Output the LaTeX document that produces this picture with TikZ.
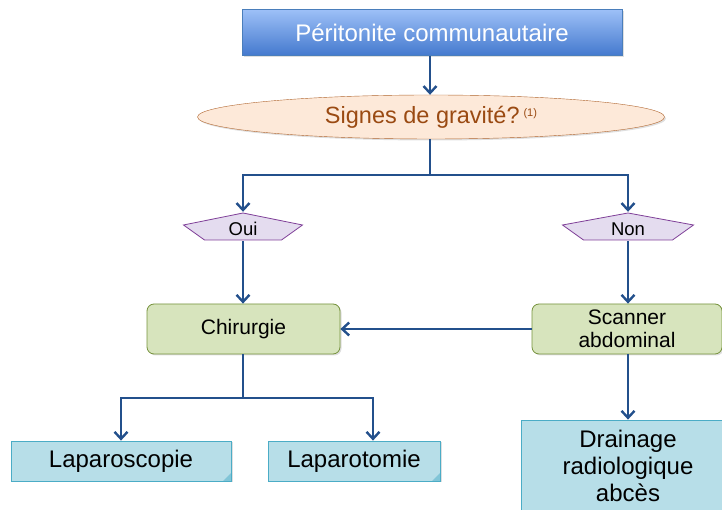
\documentclass[tikz,border=0pt]{standalone}
\usepackage{fontspec}
\setmainfont{Liberation Sans}
\usetikzlibrary{shapes.geometric,arrows.meta,shadows}
\definecolor{arrowblue}{HTML}{23508C}
\definecolor{toptop}{HTML}{9DC0F7}
\definecolor{topbottom}{HTML}{4479CE}
\definecolor{topline}{HTML}{4A7EBB}
\definecolor{ellfill}{HTML}{FDE9D9}
\definecolor{ellline}{HTML}{B0652E}
\definecolor{elltext}{HTML}{9A4A12}
\definecolor{pentafill}{HTML}{E4DCEF}
\definecolor{pentaline}{HTML}{7F3F98}
\definecolor{greenfill}{HTML}{D7E4BD}
\definecolor{greenline}{HTML}{76923C}
\definecolor{bluefill}{HTML}{B7DEE8}
\definecolor{blueline}{HTML}{4BACC6}
\begin{document}
\begin{tikzpicture}[x=1pt, y=1pt,
  arr/.style = {draw=arrowblue, line width=2.8pt, -{Straight Barb[length=7pt, width=13pt, line width=2.4pt]}},
  link/.style = {draw=arrowblue, line width=2.8pt},
  shade/.style = {drop shadow={shadow xshift=1.5pt, shadow yshift=-1.5pt, opacity=0.25}},
  topbox/.style = {rectangle, shade, draw=topline, top color=toptop, bottom color=topbottom, minimum width=380pt, minimum height=46pt, text=white, font=\fontsize{24}{28}\selectfont},
  question/.style = {ellipse, shade, draw=ellline, fill=ellfill, minimum width=467pt, minimum height=44pt, inner sep=0pt, text=elltext, font=\fontsize{23.5}{27}\selectfont},
  pentagon/.style = {rectangle, inner sep=0pt, minimum width=#1, text height=24pt, text depth=5pt, font=\fontsize{18.5}{20}\selectfont,
    path picture={\draw[fill=pentafill, draw=pentaline, line width=0.8pt]
      ([yshift=-1pt]path picture bounding box.north)
      -- ([shift={(1pt,1.5pt)}]path picture bounding box.west)
      -- ([shift={(22pt,1pt)}]path picture bounding box.south west)
      -- ([shift={(-22pt,1pt)}]path picture bounding box.south east)
      -- ([shift={(-1pt,1.5pt)}]path picture bounding box.east) -- cycle;}},
  step box/.style = {rectangle, rounded corners=7pt, shade, draw=greenline, fill=greenfill, line width=0.8pt, minimum width=#1, minimum height=50pt, inner sep=1pt, align=center, font=\fontsize{21}{23}\selectfont},
  result/.style = {rectangle, shade, draw=blueline, fill=bluefill, line width=0.8pt, minimum width=#1, inner sep=1pt, align=center, font=\fontsize{24}{27}\selectfont,
    path picture={\fill[blueline!70] ([xshift=-8pt]path picture bounding box.south east) -- ([yshift=8pt]path picture bounding box.south east) -- (path picture bounding box.south east) -- cycle;}}]
\useasboundingbox (0,0) rectangle (722,510);
\node (peri) at (432,477.5) [topbox] {Péritonite communautaire};
\node (grav) at (431,393) [question] {Signes de gravité?\,\raisebox{7pt}{\fontsize{11}{12}\selectfont(1)}};
\node (oui) at (243,283.5) [pentagon=121pt] {Oui};
\node (non) at (628,283.5) [pentagon=133pt] {Non};
\node (chir) at (243.5,181) [step box=193pt] {Chirurgie};
\node (scan) at (627,181) [step box=190pt] {Scanner\\abdominal};
\node (lapsc) at (121,49) [result=220pt, minimum height=40pt] {Laparoscopie};
\node (laptm) at (354,49) [result=172pt, minimum height=40pt] {Laparotomie};
\node (drain) at (628,44) [result=214pt, minimum height=92pt] {Drainage\\radiologique\\abcès};
\coordinate (fork) at (430,335);
\coordinate (fork2) at (243,112);
\draw[arr] (peri.south -| fork) -- (grav.north -| fork);
\draw[link] (grav.south -| fork) -- (fork);
\draw[arr] (fork) -| (oui.north);
\draw[arr] (fork) -| (non.north);
\draw[arr] (oui.south) -- (oui.south |- chir.north);
\draw[arr] (non.south) -- (non.south |- scan.north);
\draw[arr] (scan.west) -- (chir.east);
\draw[link] (chir.south -| fork2) -- (fork2);
\draw[arr] (fork2) -| (lapsc.north);
\draw[arr] (fork2) -| ([xshift=19pt]laptm.north);
\draw[arr] (non.south |- scan.south) -- (non.south |- drain.north);
\end{tikzpicture}
\end{document}
